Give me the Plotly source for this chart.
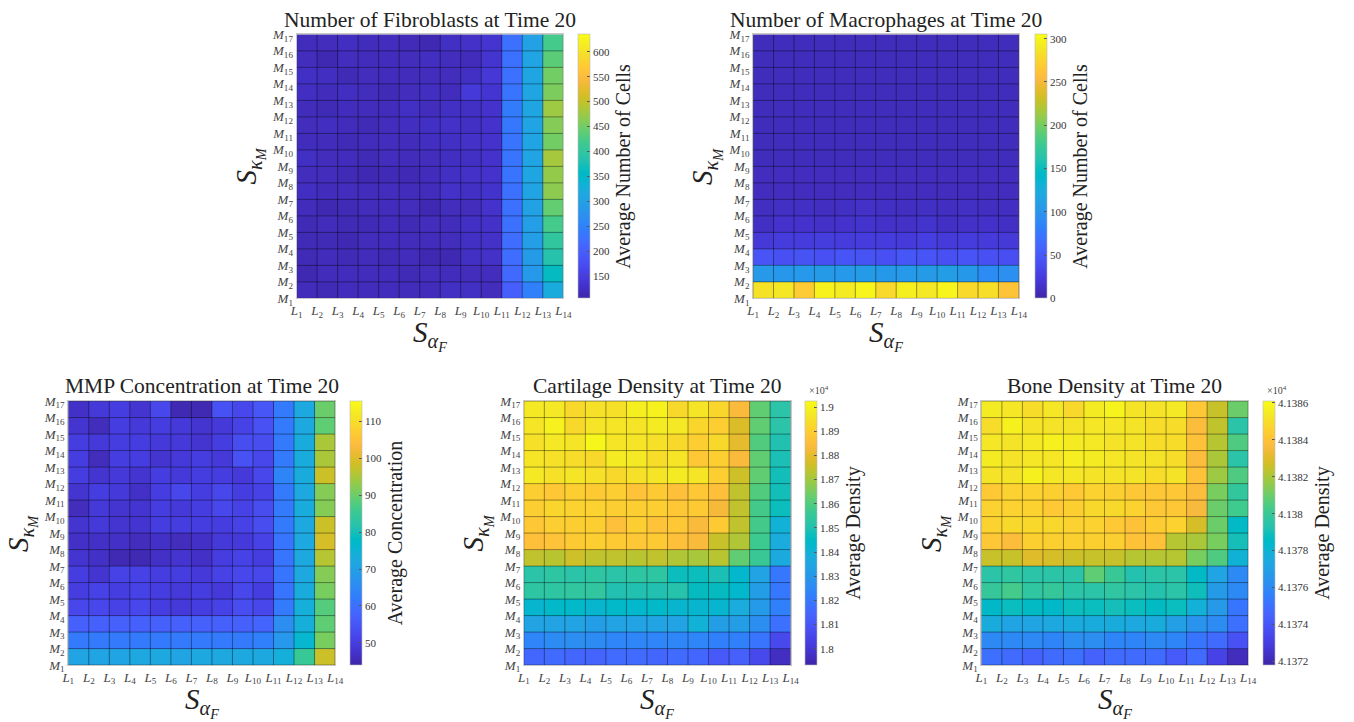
import plotly.graph_objects as go

W, H = 1354, 722
FONT = "Liberation Serif"

L_labels = [f"<i>L</i><sub>{i}</sub>" for i in range(1, 15)]
M_labels = [f"<i>M</i><sub>{i}</sub>" for i in range(1, 18)]
x_edges = list(range(1, 15))
y_edges = list(range(1, 18))

# rows listed from top (M16-M17) to bottom (M1-M2); 13 columns between L1..L14
fibroblasts_top_down = [
    [118, 120, 122, 118, 120, 116, 112, 125, 128, 135, 225, 300, 420],
    [120, 112, 120, 118, 118, 120, 122, 120, 118, 135, 225, 305, 435],
    [125, 122, 115, 120, 118, 118, 120, 120, 125, 140, 225, 308, 450],
    [122, 118, 122, 120, 115, 120, 122, 118, 142, 135, 230, 308, 455],
    [118, 115, 118, 118, 118, 125, 120, 125, 125, 130, 240, 310, 475],
    [120, 122, 118, 115, 120, 122, 125, 128, 125, 130, 235, 305, 460],
    [118, 118, 115, 118, 120, 118, 122, 125, 128, 130, 230, 305, 450],
    [125, 120, 118, 115, 120, 118, 120, 122, 125, 130, 230, 305, 480],
    [120, 120, 115, 112, 115, 114, 118, 125, 128, 130, 230, 308, 470],
    [122, 118, 120, 118, 120, 118, 118, 128, 125, 132, 225, 305, 465],
    [118, 112, 115, 118, 118, 120, 112, 120, 120, 130, 225, 300, 440],
    [115, 118, 115, 115, 118, 115, 120, 118, 125, 128, 225, 295, 420],
    [115, 115, 112, 118, 118, 118, 118, 120, 125, 128, 220, 295, 400],
    [115, 118, 115, 118, 115, 118, 112, 112, 125, 128, 220, 290, 385],
    [112, 118, 118, 118, 118, 115, 120, 118, 120, 120, 215, 285, 360],
    [118, 115, 118, 118, 118, 118, 118, 125, 125, 120, 200, 245, 320],
]

macrophages_top_down = [
    [8, 8, 8, 8, 8, 8, 8, 8, 8, 8, 8, 8, 8],
    [8, 8, 8, 8, 8, 8, 8, 8, 8, 8, 8, 8, 8],
    [8, 8, 8, 8, 8, 8, 8, 8, 8, 8, 8, 8, 8],
    [8, 8, 8, 8, 8, 8, 8, 8, 8, 8, 8, 8, 8],
    [8, 8, 8, 8, 8, 8, 8, 8, 8, 8, 8, 8, 8],
    [8, 8, 8, 8, 8, 8, 8, 8, 8, 8, 8, 8, 8],
    [8, 8, 8, 8, 8, 8, 8, 8, 8, 8, 8, 8, 8],
    [8, 8, 8, 8, 8, 8, 8, 8, 8, 8, 8, 8, 8],
    [9, 9, 9, 9, 9, 9, 9, 9, 9, 9, 9, 9, 9],
    [9, 9, 9, 9, 9, 9, 9, 9, 9, 9, 9, 9, 9],
    [10, 12, 11, 10, 11, 13, 11, 10, 11, 10, 11, 10, 10],
    [12, 15, 15, 13, 15, 16, 14, 13, 16, 12, 13, 14, 12],
    [21, 24, 23, 25, 24, 24, 23, 22, 26, 22, 23, 22, 21],
    [45, 42, 44, 42, 46, 44, 42, 47, 45, 42, 45, 42, 40],
    [105, 102, 104, 106, 104, 106, 103, 104, 106, 108, 103, 92, 96],
    [285, 288, 268, 298, 292, 300, 278, 295, 290, 300, 278, 282, 262],
]

mmp_top_down = [
    [47, 49, 50, 48, 52, 45, 45, 54, 52, 55, 62, 72, 90],
    [48, 46, 50, 49, 50, 49, 48, 49, 51, 54, 62, 72, 89],
    [50, 49, 50, 50, 49, 49, 48, 50, 53, 53, 62, 73, 95],
    [50, 46, 50, 50, 48, 49, 50, 49, 54, 52, 62, 73, 95],
    [50, 48, 49, 48, 50, 49, 50, 50, 49, 52, 64, 73, 98],
    [48, 50, 49, 47, 50, 52, 50, 52, 50, 51, 62, 72, 92],
    [46, 49, 48, 48, 50, 49, 50, 52, 51, 53, 62, 73, 92],
    [48, 49, 48, 48, 50, 50, 50, 50, 51, 53, 62, 72, 98],
    [47, 47, 47, 46, 47, 46, 47, 49, 49, 51, 61, 72, 99],
    [48, 47, 45, 45, 47, 48, 47, 50, 51, 50, 61, 72, 96],
    [50, 48, 51, 51, 50, 50, 49, 51, 52, 52, 61, 72, 92],
    [50, 51, 50, 51, 50, 49, 50, 49, 52, 50, 61, 73, 91],
    [52, 52, 51, 52, 50, 49, 50, 51, 53, 52, 62, 74, 88],
    [57, 57, 57, 57, 57, 57, 57, 57, 57, 58, 66, 74, 89],
    [62, 62, 62, 62, 62, 62, 62, 62, 62, 63, 68, 76, 91],
    [71, 71, 71, 72, 72, 71, 72, 72, 72, 72, 74, 85, 98],
]

cartilage_top_down = [  # x 10^4
    [1.897, 1.897, 1.893, 1.895, 1.895, 1.899, 1.900, 1.893, 1.896, 1.892, 1.884, 1.862, 1.852],
    [1.896, 1.900, 1.893, 1.896, 1.896, 1.896, 1.898, 1.897, 1.892, 1.890, 1.878, 1.862, 1.852],
    [1.895, 1.897, 1.896, 1.901, 1.896, 1.896, 1.895, 1.893, 1.890, 1.893, 1.880, 1.860, 1.850],
    [1.896, 1.895, 1.894, 1.893, 1.898, 1.897, 1.894, 1.896, 1.888, 1.890, 1.884, 1.862, 1.849],
    [1.897, 1.895, 1.896, 1.895, 1.893, 1.895, 1.896, 1.898, 1.896, 1.890, 1.876, 1.862, 1.848],
    [1.890, 1.888, 1.890, 1.889, 1.890, 1.887, 1.889, 1.886, 1.888, 1.886, 1.874, 1.860, 1.848],
    [1.890, 1.892, 1.891, 1.891, 1.890, 1.890, 1.890, 1.888, 1.889, 1.883, 1.874, 1.858, 1.847],
    [1.888, 1.890, 1.890, 1.890, 1.886, 1.890, 1.887, 1.888, 1.884, 1.889, 1.874, 1.858, 1.840],
    [1.886, 1.887, 1.889, 1.890, 1.889, 1.888, 1.889, 1.886, 1.884, 1.875, 1.872, 1.857, 1.838],
    [1.874, 1.873, 1.876, 1.874, 1.874, 1.873, 1.874, 1.872, 1.871, 1.873, 1.862, 1.856, 1.837],
    [1.852, 1.853, 1.852, 1.853, 1.852, 1.853, 1.853, 1.847, 1.847, 1.849, 1.843, 1.834, 1.820],
    [1.853, 1.853, 1.854, 1.854, 1.850, 1.850, 1.850, 1.851, 1.846, 1.846, 1.843, 1.832, 1.820],
    [1.842, 1.844, 1.844, 1.842, 1.844, 1.843, 1.844, 1.842, 1.842, 1.842, 1.838, 1.831, 1.822],
    [1.834, 1.834, 1.834, 1.832, 1.834, 1.834, 1.834, 1.834, 1.840, 1.832, 1.832, 1.827, 1.818],
    [1.824, 1.826, 1.827, 1.826, 1.824, 1.824, 1.824, 1.824, 1.824, 1.822, 1.822, 1.819, 1.806],
    [1.815, 1.816, 1.815, 1.814, 1.816, 1.816, 1.815, 1.816, 1.815, 1.811, 1.813, 1.806, 1.797],
]

bone_top_down = [  # x 10^4
    [4.13855, 4.13853, 4.13850, 4.13853, 4.13848, 4.13855, 4.13858, 4.13852, 4.13852, 4.13854, 4.13842, 4.13825, 4.13810],
    [4.13850, 4.13857, 4.13852, 4.13852, 4.13852, 4.13853, 4.13853, 4.13852, 4.13850, 4.13850, 4.13838, 4.13824, 4.13795],
    [4.13853, 4.13852, 4.13854, 4.13857, 4.13855, 4.13854, 4.13852, 4.13852, 4.13850, 4.13850, 4.13840, 4.13822, 4.13805],
    [4.13855, 4.13852, 4.13853, 4.13853, 4.13856, 4.13855, 4.13853, 4.13852, 4.13852, 4.13850, 4.13838, 4.13820, 4.13795],
    [4.13852, 4.13852, 4.13857, 4.13853, 4.13853, 4.13852, 4.13852, 4.13852, 4.13850, 4.13852, 4.13840, 4.13818, 4.13805],
    [4.13843, 4.13846, 4.13846, 4.13845, 4.13843, 4.13846, 4.13845, 4.13842, 4.13842, 4.13842, 4.13838, 4.13812, 4.13798],
    [4.13846, 4.13846, 4.13846, 4.13843, 4.13845, 4.13848, 4.13848, 4.13846, 4.13842, 4.13842, 4.13836, 4.13810, 4.13802],
    [4.13846, 4.13848, 4.13848, 4.13848, 4.13846, 4.13846, 4.13843, 4.13840, 4.13844, 4.13846, 4.13828, 4.13810, 4.13785],
    [4.13842, 4.13838, 4.13845, 4.13845, 4.13845, 4.13845, 4.13845, 4.13840, 4.13840, 4.13822, 4.13820, 4.13812, 4.13790],
    [4.13825, 4.13825, 4.13830, 4.13828, 4.13826, 4.13825, 4.13825, 4.13822, 4.13822, 4.13822, 4.13812, 4.13805, 4.13780],
    [4.13795, 4.13797, 4.13795, 4.13795, 4.13795, 4.13808, 4.13800, 4.13793, 4.13795, 4.13795, 4.13785, 4.13772, 4.13760],
    [4.13799, 4.13803, 4.13797, 4.13799, 4.13795, 4.13795, 4.13797, 4.13795, 4.13793, 4.13795, 4.13789, 4.13768, 4.13760],
    [4.13784, 4.13788, 4.13786, 4.13784, 4.13788, 4.13788, 4.13790, 4.13788, 4.13786, 4.13788, 4.13779, 4.13767, 4.13752],
    [4.13776, 4.13772, 4.13772, 4.13774, 4.13776, 4.13776, 4.13776, 4.13774, 4.13776, 4.13770, 4.13764, 4.13761, 4.13750],
    [4.13760, 4.13760, 4.13760, 4.13758, 4.13762, 4.13762, 4.13758, 4.13758, 4.13760, 4.13758, 4.13752, 4.13748, 4.13738],
    [4.13750, 4.13748, 4.13745, 4.13748, 4.13750, 4.13745, 4.13748, 4.13748, 4.13748, 4.13742, 4.13748, 4.13732, 4.13722],
]

fib_ticks = [150, 200, 250, 300, 350, 400, 450, 500, 550, 600]
mac_ticks = [0, 50, 100, 150, 200, 250, 300]
mmp_ticks = [50, 60, 70, 80, 90, 100, 110]
cart_ticks = [1.80, 1.81, 1.82, 1.83, 1.84, 1.85, 1.86, 1.87, 1.88, 1.89, 1.90]
cart_ticktext = ["1.8", "1.81", "1.82", "1.83", "1.84", "1.85", "1.86", "1.87", "1.88", "1.89", "1.9"]
bone_ticks = [4.1372, 4.1374, 4.1376, 4.1378, 4.1380, 4.1382, 4.1384, 4.1386]
bone_ticktext = ["4.1372", "4.1374", "4.1376", "4.1378", "4.138", "4.1382", "4.1384", "4.1386"]

# MATLAB parula colormap (64 entries)
parula = [
    (0.2422, 0.1504, 0.6603), (0.2504, 0.1650, 0.7076), (0.2578, 0.1818, 0.7511), (0.2647, 0.1978, 0.7952),
    (0.2706, 0.2147, 0.8364), (0.2751, 0.2342, 0.8710), (0.2783, 0.2559, 0.8991), (0.2803, 0.2782, 0.9221),
    (0.2813, 0.3006, 0.9414), (0.2810, 0.3228, 0.9579), (0.2795, 0.3447, 0.9717), (0.2760, 0.3667, 0.9829),
    (0.2699, 0.3892, 0.9906), (0.2602, 0.4123, 0.9952), (0.2440, 0.4358, 0.9988), (0.2206, 0.4603, 0.9973),
    (0.1963, 0.4847, 0.9892), (0.1834, 0.5074, 0.9798), (0.1786, 0.5289, 0.9682), (0.1764, 0.5499, 0.9520),
    (0.1687, 0.5703, 0.9359), (0.1540, 0.5902, 0.9218), (0.1460, 0.6091, 0.9079), (0.1380, 0.6276, 0.8973),
    (0.1248, 0.6459, 0.8883), (0.1113, 0.6635, 0.8763), (0.0952, 0.6798, 0.8598), (0.0689, 0.6948, 0.8394),
    (0.0297, 0.7082, 0.8163), (0.0036, 0.7203, 0.7917), (0.0067, 0.7312, 0.7660), (0.0433, 0.7411, 0.7394),
    (0.0964, 0.7500, 0.7120), (0.1408, 0.7584, 0.6842), (0.1717, 0.7670, 0.6554), (0.1938, 0.7758, 0.6251),
    (0.2161, 0.7843, 0.5923), (0.2470, 0.7918, 0.5567), (0.2906, 0.7973, 0.5188), (0.3406, 0.8008, 0.4789),
    (0.3909, 0.8029, 0.4354), (0.4456, 0.8024, 0.3909), (0.5044, 0.7993, 0.3480), (0.5616, 0.7942, 0.3045),
    (0.6174, 0.7876, 0.2612), (0.6720, 0.7793, 0.2227), (0.7242, 0.7698, 0.1910), (0.7738, 0.7598, 0.1646),
    (0.8203, 0.7498, 0.1535), (0.8634, 0.7406, 0.1596), (0.9035, 0.7330, 0.1774), (0.9393, 0.7288, 0.2100),
    (0.9728, 0.7298, 0.2394), (0.9956, 0.7434, 0.2371), (0.9970, 0.7659, 0.2199), (0.9952, 0.7893, 0.2028),
    (0.9892, 0.8136, 0.1885), (0.9786, 0.8386, 0.1766), (0.9676, 0.8639, 0.1643), (0.9610, 0.8890, 0.1537),
    (0.9597, 0.9135, 0.1423), (0.9628, 0.9373, 0.1265), (0.9691, 0.9606, 0.1064), (0.9769, 0.9839, 0.0805),
]
n = len(parula) - 1
colorscale = [[i / n, "rgb(%d,%d,%d)" % tuple(round(c * 255) for c in p)] for i, p in enumerate(parula)]

panels = [
    dict(z=fibroblasts_top_down, title="Number of Fibroblasts at Time 20", cbt="Average Number of Cells",
         zmin=105, zmax=635, tv=fib_ticks, tt=[str(t) for t in fib_ticks],
         px=(293, 563, 28, 298), cbx=578, exp=False),
    dict(z=macrophages_top_down, title="Number of Macrophages at Time 20", cbt="Average Number of Cells",
         zmin=0, zmax=305, tv=mac_ticks, tt=[str(t) for t in mac_ticks],
         px=(755, 1024, 28, 298), cbx=1040, exp=False),
    dict(z=mmp_top_down, title="MMP Concentration at Time 20", cbt="Average Concentration",
         zmin=44, zmax=115.5, tv=mmp_ticks, tt=[str(t) for t in mmp_ticks],
         px=(62, 332, 403, 673), cbx=347, exp=False),
    dict(z=cartilage_top_down, title="Cartilage Density at Time 20", cbt="Average Density",
         zmin=1.7932, zmax=1.9025, tv=cart_ticks, tt=cart_ticktext,
         px=(523, 793, 403, 673), cbx=808, exp=True),
    dict(z=bone_top_down, title="Bone Density at Time 20", cbt="Average Density",
         zmin=4.13718, zmax=4.13861, tv=bone_ticks, tt=bone_ticktext,
         px=(986, 1256, 403, 673), cbx=1271, exp=True),
]

fig = go.Figure()
annotations = []
layout = {}

for k, p in enumerate(panels, start=1):
    x0, x1, y0, y1 = p["px"]
    xa = "x" if k == 1 else f"x{k}"
    ya = "y" if k == 1 else f"y{k}"
    z = p["z"][::-1]
    fig.add_trace(go.Heatmap(
        x=x_edges, y=y_edges, z=z, xaxis=xa, yaxis=ya,
        colorscale=colorscale, zmin=p["zmin"], zmax=p["zmax"],
        colorbar=dict(
            x=p["cbx"] / W, xanchor="left", xref="paper",
            y=1 - (y0 + y1) / 2 / H, yanchor="middle", yref="paper",
            len=(y1 - y0) / H, lenmode="fraction", ypad=0, xpad=0,
            thickness=12, thicknessmode="pixels",
            ticks="inside", ticklen=3, tickcolor="#555",
            tickvals=p["tv"], ticktext=p["tt"],
            tickfont=dict(family=FONT, size=11, color="#333"),
            outlinewidth=0.6, outlinecolor="#bbb",
            title=dict(text=p["cbt"], side="right", font=dict(family=FONT, size=20, color="#222")),
        ),
        hoverinfo="skip",
    ))
    # cell borders
    gx, gy = [], []
    for xe in x_edges:
        gx += [xe, xe, None]
        gy += [y_edges[0], y_edges[-1], None]
    for ye in y_edges:
        gx += [x_edges[0], x_edges[-1], None]
        gy += [ye, ye, None]
    fig.add_trace(go.Scatter(x=gx, y=gy, mode="lines", xaxis=xa, yaxis=ya,
                             line=dict(color="rgba(0,0,0,0.5)", width=0.8),
                             hoverinfo="skip", showlegend=False))
    axkey = "xaxis" if k == 1 else f"xaxis{k}"
    aykey = "yaxis" if k == 1 else f"yaxis{k}"
    layout[axkey] = dict(domain=[x0 / W, x1 / W], anchor=ya, range=[x_edges[0], x_edges[-1]],
                         tickvals=x_edges, ticktext=L_labels, showgrid=False, zeroline=False,
                         showline=True, mirror=True, linecolor="#c8c8c8", linewidth=1, ticks="",
                         tickfont=dict(family=FONT, size=13, color="#444"), tickangle=0)
    layout[aykey] = dict(domain=[1 - y1 / H, 1 - y0 / H], anchor=xa, range=[y_edges[0], y_edges[-1]],
                         tickvals=y_edges, ticktext=M_labels, showgrid=False, zeroline=False,
                         showline=True, mirror=True, linecolor="#c8c8c8", linewidth=1, ticks="",
                         tickfont=dict(family=FONT, size=13, color="#444"))
    cx = (x0 + x1) / 2
    annotations.append(dict(text=p["title"], x=cx / W, y=1 - (y0 - 15) / H, xref="paper", yref="paper",
                            showarrow=False, font=dict(family=FONT, size=21.5, color="#222"),
                            xanchor="center", yanchor="middle"))
    annotations.append(dict(text="<i>S</i><sub><i>α<sub>F</sub></i></sub>", x=cx / W, y=1 - (y1 + 38) / H,
                            xref="paper", yref="paper", showarrow=False,
                            font=dict(family=FONT, size=29, color="#222"), xanchor="center", yanchor="middle"))
    annotations.append(dict(text="<i>S</i><sub><i>κ<sub>M</sub></i></sub>", x=(x0 - 48) / W,
                            y=1 - ((y0 + y1) / 2) / H, xref="paper", yref="paper", showarrow=False,
                            textangle=-90, font=dict(family=FONT, size=29, color="#222"),
                            xanchor="center", yanchor="middle"))
    if p["exp"]:
        annotations.append(dict(text="×10<sup>4</sup>", x=(p["cbx"] + 14) / W, y=1 - (y0 - 11) / H,
                                xref="paper", yref="paper", showarrow=False,
                                font=dict(family=FONT, size=10, color="#444"),
                                xanchor="center", yanchor="middle"))

fig.update_layout(
    width=W, height=H, margin=dict(l=0, r=0, t=0, b=0),
    paper_bgcolor="white", plot_bgcolor="white", showlegend=False,
    annotations=annotations, **layout,
)

fig.write_html("out.html")
